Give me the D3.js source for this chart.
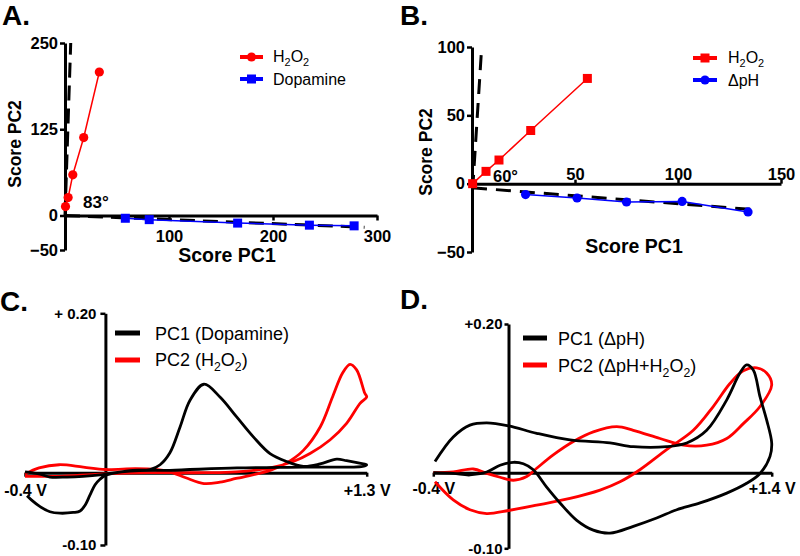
<!DOCTYPE html>
<html><head><meta charset="utf-8">
<script src="https://cdn.jsdelivr.net/npm/d3@7"></script>
<style>body{margin:0;background:#fff}svg{display:block}text{font-family:Arial,"Liberation Sans",Helvetica,sans-serif}</style>
</head><body>
<svg id="c" width="800" height="556"></svg>
<script>
// ---------- Panel A data ----------
const aH2O2 = [[0.5,13],[3,26],[7.5,59],[18,113],[33,208]];
const aDopamine = [[58,-4],[81,-6],[166,-11],[235,-14],[278,-15]];
const aFitSteep = [[0,0],[5.5,250]];
const aFitFlat = [[0,0],[288,-17]];
const aYTicks = [-50,0,125,250];
const aXTicks = [100,200,300];
const aAngle = "83°";
// ---------- Panel B data ----------
const bH2O2 = [[0.3,0],[6.8,9],[13.1,17.3],[28.5,38.9],[56,77]];
const bDpH = [[26,-8],[51,-10.5],[75,-13.4],[102,-13],[134,-20.7]];
const bFitSteep = [[0.3,-4.5],[4.7,100]];
const bFitFlat = [[0,-3],[137,-19]];
const bYTicks = [-50,0,50,100];
const bXTicks = [50,100,150];
const bAngle = "60°";
// ---------- Panel C data (potential V, current) ----------
const cPC1 = [[-0.40,0.001],[-0.325,-0.002],[-0.276,-0.006],[-0.191,-0.006],[-0.111,-0.005],[-0.027,-0.003],[0.023,-0.001],[0.137,0.003],[0.222,0.004],[0.272,0.010],[0.321,0.025],[0.371,0.057],[0.421,0.091],[0.490,0.111],[0.570,0.095],[0.653,0.070],[0.736,0.045],[0.819,0.024],[0.902,0.014],[0.985,0.008],[1.068,0.011],[1.151,0.017],[1.200,0.015],[1.283,0.011],[1.30,0.010],
  [1.28,0.008],[0.983,0.007],[0.655,0.006],[0.321,0.003],[0.122,0.002],[0.006,-0.003],[-0.027,-0.009],[-0.052,-0.017],[-0.077,-0.031],[-0.101,-0.045],[-0.126,-0.053],[-0.160,-0.055],[-0.226,-0.056],[-0.276,-0.054],[-0.325,-0.047],[-0.367,-0.038],[-0.39,-0.032]];
const cPC2 = [[-0.40,-0.002],[-0.33,0.006],[-0.23,0.010],[-0.11,0.007],[0.0,0.004],[0.15,0.005],[0.25,0.004],[0.32,0.001],[0.40,-0.007],[0.49,-0.015],[0.57,-0.013],[0.65,-0.008],[0.82,0.003],[0.90,0.012],[0.985,0.028],[1.07,0.058],[1.13,0.095],[1.18,0.125],[1.217,0.136],[1.25,0.129],[1.29,0.100],[1.30,0.095],
  [1.267,0.087],[1.20,0.062],[1.117,0.041],[1.018,0.024],[0.935,0.014],[0.82,0.006],[0.65,0.001],[0.49,0.0],[0.22,0.0],[-0.03,-0.002],[-0.23,-0.005],[-0.40,-0.005]];
const cYTicks = [-0.10,0.20];
const cYLabels = ["-0.10","+ 0.20"];
const cXTicks = [-0.4,1.3];
const cXLabels = ["-0.4 V","+1.3 V"];
// ---------- Panel D data ----------
const dPC1 = [[-0.391,0.015],[-0.294,0.048],[-0.205,0.064],[-0.116,0.067],[0.0,0.063],[0.150,0.053],[0.327,0.044],[0.540,0.040],[0.664,0.035],[0.841,0.035],[0.948,0.040],[1.054,0.057],[1.161,0.098],[1.231,0.134],[1.267,0.145],[1.302,0.138],[1.338,0.102],[1.373,0.071],[1.40,0.040],
  [1.391,0.022],[1.338,-0.001],[1.267,-0.014],[1.161,-0.027],[1.019,-0.040],[0.895,-0.049],[0.788,-0.060],[0.664,-0.071],[0.540,-0.080],[0.451,-0.076],[0.363,-0.063],[0.274,-0.040],[0.203,-0.019],[0.132,0.004],[0.079,0.012],[0.026,0.014],[-0.045,0.010],[-0.116,0.001],[-0.205,-0.003],[-0.294,-0.001],[-0.40,0.0]];
const dPC2 = [[-0.40,0.0],[-0.294,0.001],[-0.187,0.005],[-0.116,-0.001],[-0.045,-0.006],[0.026,-0.010],[0.097,-0.005],[0.150,0.006],[0.238,0.024],[0.345,0.042],[0.451,0.055],[0.576,0.062],[0.664,0.057],[0.806,0.046],[0.930,0.037],[1.054,0.037],[1.161,0.046],[1.249,0.066],[1.338,0.089],[1.40,0.118],
  [1.373,0.134],[1.320,0.141],[1.249,0.137],[1.178,0.120],[1.089,0.089],[0.983,0.057],[0.841,0.031],[0.699,0.004],[0.593,-0.012],[0.487,-0.023],[0.327,-0.034],[0.150,-0.043],[0.0,-0.050],[-0.116,-0.054],[-0.205,-0.049],[-0.294,-0.036],[-0.391,-0.012]];
const dYTicks = [-0.10,0.20];
const dYLabels = ["-0.10","+0.20"];
const dXTicks = [-0.4,1.4];
const dXLabels = ["-0.4 V","+1.4 V"];

const RED = "#ff0000", BLUE = "#0000ff", BLACK = "#000";
const svg = d3.select("#c");

// text with "_x" subscripts
function richText(g, x, y, str, size, opts = {}) {
  const t = g.append("text").attr("x", x).attr("y", y).attr("font-size", size)
    .attr("fill", "#000").attr("font-weight", opts.bold ? "bold" : "normal");
  if (opts.anchor) t.attr("text-anchor", opts.anchor);
  if (opts.rotate) t.attr("transform", `rotate(-90,${x},${y})`);
  // build segments
  const segs = [];
  let i = 0, buf = "";
  while (i < str.length) {
    if (str[i] === "_") {
      if (buf) { segs.push({ s: buf, sub: false }); buf = ""; }
      segs.push({ s: str[i + 1], sub: true });
      i += 2;
    } else { buf += str[i]; i++; }
  }
  if (buf) segs.push({ s: buf, sub: false });
  let shifted = false;
  const off = size * 0.28;
  segs.forEach(sg => {
    const ts = t.append("tspan").text(sg.s);
    if (sg.sub) {
      ts.attr("font-size", size * 0.68);
      if (!shifted) { ts.attr("dy", off); shifted = true; }
    } else if (shifted) {
      ts.attr("dy", -off); shifted = false;
    }
  });
  return t;
}

function styleAxis(g, fs) {
  g.attr("font-family", null).attr("font-size", null);
  g.select(".domain").attr("stroke", BLACK).attr("stroke-width", 3);
  g.selectAll(".tick line").attr("stroke", BLACK).attr("stroke-width", 2.5);
  g.selectAll(".tick text").attr("font-size", fs).attr("font-weight", "bold").attr("fill", BLACK);
}

// ================= Panel A =================
const xA = d3.scaleLinear().domain([0, 300]).range([65, 377]);
const yA = d3.scaleLinear().domain([-50, 250]).range([250, 43]);
const gA = svg.append("g");
gA.append("g").attr("transform", `translate(${xA(0)},0)`)
  .call(d3.axisLeft(yA).tickValues(aYTicks).tickSize(5).tickSizeOuter(0).tickPadding(2).tickFormat(d3.format("d")))
  .call(g => styleAxis(g, 16.5));
gA.append("g").attr("transform", `translate(0,${yA(0)})`)
  .call(d3.axisBottom(xA).tickValues(aXTicks).tickSize(5).tickSizeOuter(0).tickPadding(10))
  .call(g => styleAxis(g, 16.5));
const lineA = d3.line().x(d => xA(d[0])).y(d => yA(d[1]));
[aFitSteep, aFitFlat].forEach(f => gA.append("path").attr("d", lineA(f)).attr("fill", "none")
  .attr("stroke", BLACK).attr("stroke-width", 3).attr("stroke-dasharray", "15,8"));
gA.append("path").attr("d", lineA(aDopamine)).attr("fill", "none").attr("stroke", BLUE).attr("stroke-width", 1.5);
gA.selectAll(".sq").data(aDopamine).enter().append("rect")
  .attr("x", d => xA(d[0]) - 4.5).attr("y", d => yA(d[1]) - 4.5).attr("width", 9).attr("height", 9).attr("fill", BLUE);
gA.append("path").attr("d", lineA(aH2O2)).attr("fill", "none").attr("stroke", RED).attr("stroke-width", 1.5);
gA.selectAll(".ci").data(aH2O2).enter().append("circle")
  .attr("cx", d => xA(d[0])).attr("cy", d => yA(d[1])).attr("r", 4.6).attr("fill", RED);
richText(gA, 83, 208, aAngle, 17, { bold: true });
richText(gA, 2, 25, "A.", 28, { bold: true });
richText(gA, 227, 262, "Score PC1", 19.5, { bold: true, anchor: "middle" });
richText(gA, 21, 144, "Score PC2", 17.5, { bold: true, anchor: "middle", rotate: true });
// legend A
gA.append("line").attr("x1", 240).attr("x2", 263).attr("y1", 57).attr("y2", 57).attr("stroke", RED).attr("stroke-width", 4);
gA.append("circle").attr("cx", 251.5).attr("cy", 57).attr("r", 4.6).attr("fill", RED);
richText(gA, 273, 62, "H_2O_2", 16);
gA.append("line").attr("x1", 240).attr("x2", 263).attr("y1", 79).attr("y2", 79).attr("stroke", BLUE).attr("stroke-width", 4);
gA.append("rect").attr("x", 247).attr("y", 74.5).attr("width", 9).attr("height", 9).attr("fill", BLUE);
richText(gA, 273, 85, "Dopamine", 16);

// ================= Panel B =================
const xB = d3.scaleLinear().domain([0, 150]).range([472, 781]);
const yB = d3.scaleLinear().domain([-50, 100]).range([252, 47]);
const gB = svg.append("g");
gB.append("g").attr("transform", `translate(${xB(0)},0)`)
  .call(d3.axisLeft(yB).tickValues(bYTicks).tickSize(5).tickSizeOuter(0).tickPadding(2))
  .call(g => styleAxis(g, 16.5));
gB.append("g").attr("transform", `translate(0,${yB(0)})`)
  .call(d3.axisTop(xB).tickValues(bXTicks).tickSize(4).tickSizeOuter(0).tickPadding(0))
  .call(g => styleAxis(g, 16.5));
const lineB = d3.line().x(d => xB(d[0])).y(d => yB(d[1]));
[bFitSteep, bFitFlat].forEach(f => gB.append("path").attr("d", lineB(f)).attr("fill", "none")
  .attr("stroke", BLACK).attr("stroke-width", 3).attr("stroke-dasharray", "15,9"));
gB.append("path").attr("d", lineB(bDpH)).attr("fill", "none").attr("stroke", BLUE).attr("stroke-width", 1.5);
gB.selectAll(".ci").data(bDpH).enter().append("circle")
  .attr("cx", d => xB(d[0])).attr("cy", d => yB(d[1])).attr("r", 4.6).attr("fill", BLUE);
gB.append("path").attr("d", lineB(bH2O2)).attr("fill", "none").attr("stroke", RED).attr("stroke-width", 1.5);
gB.selectAll(".sq").data(bH2O2).enter().append("rect")
  .attr("x", d => xB(d[0]) - 4.5).attr("y", d => yB(d[1]) - 4.5).attr("width", 9).attr("height", 9).attr("fill", RED);
richText(gB, 493, 182, bAngle, 16.5, { bold: true });
richText(gB, 400, 25, "B.", 28, { bold: true });
richText(gB, 634, 253, "Score PC1", 19.5, { bold: true, anchor: "middle" });
richText(gB, 432, 152, "Score PC2", 17.5, { bold: true, anchor: "middle", rotate: true });
gB.append("line").attr("x1", 693).attr("x2", 717).attr("y1", 58).attr("y2", 58).attr("stroke", RED).attr("stroke-width", 4);
gB.append("rect").attr("x", 700.5).attr("y", 53.5).attr("width", 9).attr("height", 9).attr("fill", RED);
richText(gB, 728, 63, "H_2O_2", 16);
gB.append("line").attr("x1", 693).attr("x2", 717).attr("y1", 80).attr("y2", 80).attr("stroke", BLUE).attr("stroke-width", 4);
gB.append("circle").attr("cx", 705).attr("cy", 80).attr("r", 4.6).attr("fill", BLUE);
richText(gB, 728, 86, "ΔpH", 16);

// ================= Panel C =================
const xC = d3.scaleLinear().domain([-0.4, 1.3]).range([25, 366.7]);
const yC = d3.scaleLinear().domain([-0.1, 0, 0.2]).range([545, 472.7, 313.3]);
const gC = svg.append("g");
gC.append("g").attr("transform", `translate(${xC(0)},0)`)
  .call(d3.axisLeft(yC).tickValues(cYTicks).tickSize(5).tickSizeOuter(0).tickPadding(4).tickFormat((d, i) => cYLabels[i]))
  .call(g => styleAxis(g, 15));
gC.append("g").attr("transform", `translate(0,${yC(0)})`)
  .call(d3.axisBottom(xC).tickValues(cXTicks).tickSize(4).tickSizeOuter(0).tickPadding(8).tickFormat((d, i) => cXLabels[i]))
  .call(g => styleAxis(g, 16));
const lineC = d3.line().x(d => xC(d[0])).y(d => yC(d[1])).curve(d3.curveCatmullRom.alpha(0.5));
gC.append("path").attr("d", lineC(cPC2)).attr("fill", "none").attr("stroke", RED).attr("stroke-width", 2.8);
gC.append("path").attr("d", lineC(cPC1)).attr("fill", "none").attr("stroke", BLACK).attr("stroke-width", 2.8);
richText(gC, 0, 311, "C.", 28, { bold: true });
gC.append("line").attr("x1", 115).attr("x2", 140).attr("y1", 333).attr("y2", 333).attr("stroke", BLACK).attr("stroke-width", 5);
richText(gC, 155, 339.5, "PC1 (Dopamine)", 18);
gC.append("line").attr("x1", 115).attr("x2", 140).attr("y1", 360).attr("y2", 360).attr("stroke", RED).attr("stroke-width", 5);
richText(gC, 155, 366, "PC2 (H_2O_2)", 18);

// ================= Panel D =================
const xD = d3.scaleLinear().domain([-0.4, 1.4]).range([433.3, 771.7]);
const yD = d3.scaleLinear().domain([-0.1, 0, 0.2]).range([548.3, 472.7, 324]);
const gD = svg.append("g");
gD.append("g").attr("transform", `translate(${xD(0)},0)`)
  .call(d3.axisLeft(yD).tickValues(dYTicks).tickSize(4).tickSizeOuter(0).tickPadding(2).tickFormat((d, i) => dYLabels[i]))
  .call(g => styleAxis(g, 15));
gD.append("g").attr("transform", `translate(0,${yD(0)})`)
  .call(d3.axisBottom(xD).tickValues(dXTicks).tickSize(4).tickSizeOuter(0).tickPadding(6).tickFormat((d, i) => dXLabels[i]))
  .call(g => styleAxis(g, 16));
const lineD = d3.line().x(d => xD(d[0])).y(d => yD(d[1])).curve(d3.curveCatmullRom.alpha(0.5));
gD.append("path").attr("d", lineD(dPC2)).attr("fill", "none").attr("stroke", RED).attr("stroke-width", 2.8);
gD.append("path").attr("d", lineD(dPC1)).attr("fill", "none").attr("stroke", BLACK).attr("stroke-width", 2.8);
richText(gD, 400, 309, "D.", 28, { bold: true });
gD.append("line").attr("x1", 523).attr("x2", 547).attr("y1", 338).attr("y2", 338).attr("stroke", BLACK).attr("stroke-width", 5);
richText(gD, 558, 344.5, "PC1 (ΔpH)", 18);
gD.append("line").attr("x1", 523).attr("x2", 547).attr("y1", 365).attr("y2", 365).attr("stroke", RED).attr("stroke-width", 5);
richText(gD, 558, 371.5, "PC2 (ΔpH+H_2O_2)", 18);
</script>
</body></html>
